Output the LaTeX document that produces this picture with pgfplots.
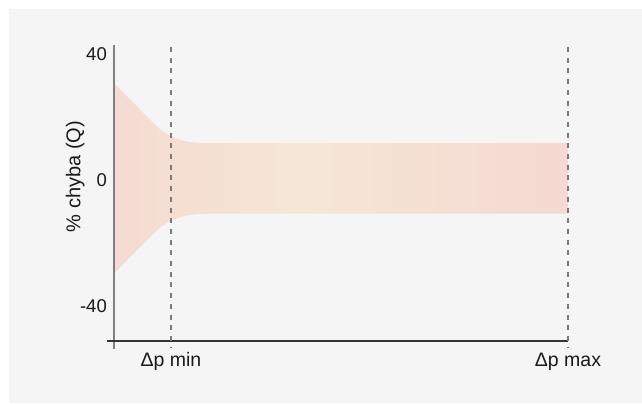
\documentclass[border=0pt]{standalone}
\usepackage{pgfplots}
\pgfplotsset{compat=1.18}
\usepackage{fontspec}
\setmainfont{Liberation Sans}
\definecolor{bg}{HTML}{F5F5F5}
\definecolor{bandL}{HTML}{F5DBD2}
\definecolor{bandM}{HTML}{F5E6D4}
\definecolor{bandR}{HTML}{F5D9D2}
\definecolor{yaxiscol}{HTML}{808080}
\definecolor{xaxiscol}{HTML}{333333}
\definecolor{dashcol}{HTML}{7A7A7A}
\definecolor{textcol}{HTML}{1A1A1A}
% path bounding box maps to 25bp..75bp; yellowest at ~40% of the band
\pgfdeclarehorizontalshading{bandshade}{100bp}{color(0bp)=(bandL); color(25bp)=(bandL);
  color(45.5bp)=(bandM); color(75bp)=(bandR); color(100bp)=(bandR)}
\begin{document}
\begin{tikzpicture}[x=1bp,y=1bp]
  \fill[white] (0,0) rectangle (642,403);
  \fill[bg] (9,0) rectangle (642,394);
  \useasboundingbox (0,0) rectangle (642,403);
  \begin{axis}[
      at={(107bp,54bp)}, anchor=south west,
      scale only axis, width=461bp, height=304bp,
      xmin=-7, xmax=454, ymin=-53.65, ymax=42.86,
      clip=false,
      axis line style={draw=none},
      tick style={draw=none},
      font=\fontsize{18.5bp}{22bp}\selectfont,
      ytick={-40,0,40}, yticklabels={-40,0,40},
      yticklabel style={inner sep=0pt, anchor=east, text=textcol},
      xtick={57,454}, xticklabels={Δp min, Δp max},
      xticklabel style={inner sep=0pt, anchor=north, yshift=-3.5bp, text=textcol,
        font=\fontsize{19.5bp}{23bp}\selectfont},
      ylabel={\% chyba (Q)},
      every axis y label/.style={at={(axis description cs:-0.069,0.567)},
        rotate=90, anchor=center, inner sep=0pt, text=textcol,
        font=\fontsize{20bp}{24bp}\selectfont},
    ]
    % error band (upper edge, then lower edge back)
    \addplot[draw=none, shading=bandshade, shading angle=0]
      coordinates {
        (0,30.7) (10,27.5) (20,24.3) (30,21.1) (40,17.9) (46,16.1) (52,14.8)
        (57,14.0) (62,13.3) (68,12.6) (76,12.05) (85,11.8) (95,11.7) (454,11.7)
        (454,-10.7) (95,-10.7) (85,-10.8) (76,-11.05) (68,-11.6) (62,-12.3)
        (57,-13.0) (52,-13.8) (46,-15.1) (40,-16.9) (30,-20.1) (20,-23.3)
        (10,-26.5) (0,-29.7)
      } -- cycle;
    % axis lines
    \draw[yaxiscol, line width=1.4bp] (axis cs:0,-53.65) -- (axis cs:0,42.86);
    \draw[xaxiscol, line width=1.3bp] (axis cs:-7,-51.1) -- (axis cs:454,-51.1);
    % dashed markers
    \draw[dashcol, line width=1.2bp, dash pattern=on 5bp off 5.7bp]
      (axis cs:57,42.2) -- (axis cs:57,-53.0);
    \draw[dashcol, line width=1.2bp, dash pattern=on 5bp off 5.7bp]
      (axis cs:454,42.2) -- (axis cs:454,-53.0);
  \end{axis}
\end{tikzpicture}
\end{document}
